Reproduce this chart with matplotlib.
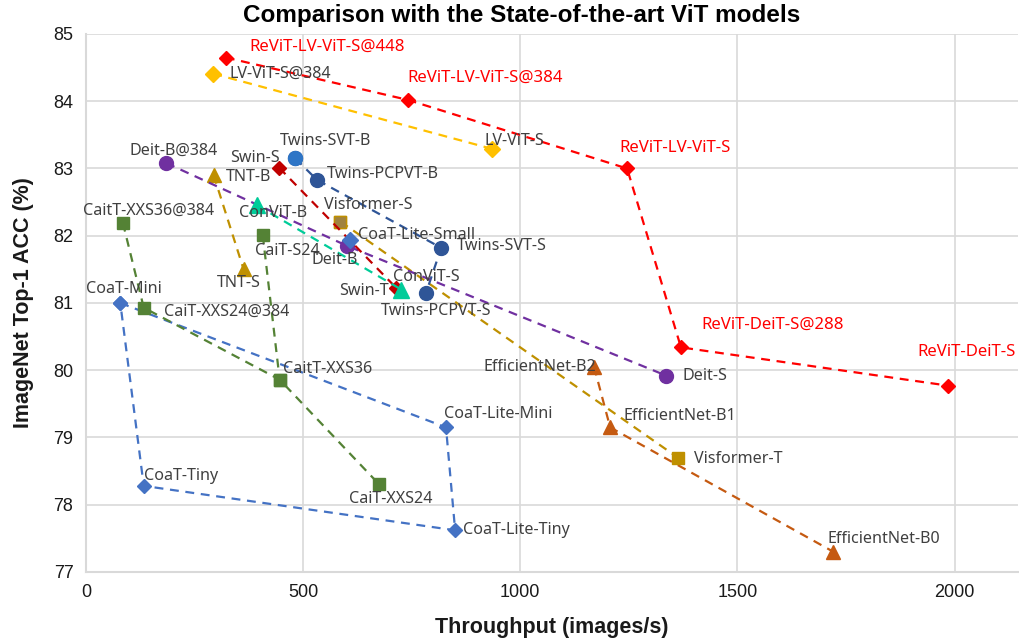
import matplotlib
matplotlib.use("Agg")
import matplotlib.pyplot as plt

plt.rcParams['font.family'] = ['Noto Sans', 'DejaVu Sans']

# ---- data ----
revit_names = ["ReViT-LV-ViT-S@448", "ReViT-LV-ViT-S@384", "ReViT-LV-ViT-S", "ReViT-DeiT-S@288", "ReViT-DeiT-S"]
revit_tp = [322, 741, 1246, 1370, 1986]
revit_acc = [84.65, 84.02, 83.0, 80.34, 79.77]

lvvit_names = ["LV-ViT-S@384", "LV-ViT-S"]
lvvit_tp = [293, 936]
lvvit_acc = [84.41, 83.29]

deit_names = ["Deit-B@384", "Deit-B", "Deit-S"]
deit_tp = [185, 601, 1336]
deit_acc = [83.08, 81.85, 79.92]

tnt_names = ["TNT-B", "TNT-S"]
tnt_tp = [294, 363]
tnt_acc = [82.9, 81.5]

swin_names = ["Swin-S", "Swin-T"]
swin_tp = [445, 715]
swin_acc = [83.01, 81.22]

twins_names = ["Twins-SVT-B", "Twins-PCPVT-B", "Twins-SVT-S", "Twins-PCPVT-S"]
twins_tp = [482, 532, 818, 783]
twins_acc = [83.15, 82.83, 81.82, 81.15]

convit_names = ["ConViT-B", "ConViT-S"]
convit_tp = [394, 726]
convit_acc = [82.45, 81.2]

cait_names = ["CaitT-XXS36@384", "CaiT-XXS24@384", "CaitT-XXS36", "CaiT-XXS24"]
cait_tp = [85, 133, 446, 674]
cait_acc = [82.19, 80.93, 79.86, 78.31]
cait_s24_names = ["CaiT-S24"]
cait_s24_tp = [407]
cait_s24_acc = [82.01]

coat_names = ["CoaT-Mini", "CoaT-Lite-Mini", "CoaT-Lite-Tiny", "CoaT-Tiny"]
coat_tp = [79, 829, 850, 133]
coat_acc = [81.0, 79.15, 77.62, 78.28]
coat_small_names = ["CoaT-Lite-Small"]
coat_small_tp = [607]
coat_small_acc = [81.93]

visf_names = ["Visformer-S", "Visformer-T"]
visf_tp = [586, 1363]
visf_acc = [82.21, 78.7]

effnet_names = ["EfficientNet-B2", "EfficientNet-B1", "EfficientNet-B0"]
effnet_tp = [1170, 1207, 1721]
effnet_acc = [80.05, 79.15, 77.3]

# label offsets in pixels (dx, dy, ha)
label_pos = {
    "ReViT-LV-ViT-S@448": (24, 11, "left"), "ReViT-LV-ViT-S@384": (0, 22, "left"),
    "ReViT-LV-ViT-S": (-8, 20, "left"), "ReViT-DeiT-S@288": (20, 23, "left"),
    "ReViT-DeiT-S": (-31, 34, "left"),
    "LV-ViT-S@384": (16, 0, "left"), "LV-ViT-S": (-8, 8, "left"),
    "Deit-B@384": (-37, 12, "left"), "Deit-B": (11, -14, "right"), "Deit-S": (16, 0, "left"),
    "TNT-B": (12, -2, "left"), "TNT-S": (-27, -14, "left"),
    "Swin-S": (1, 10, "right"), "Swin-T": (-8, -3, "right"),
    "Twins-SVT-B": (-15, 17, "left"), "Twins-PCPVT-B": (10, 6, "left"),
    "Twins-SVT-S": (16, 2, "left"), "Twins-PCPVT-S": (-45, -18, "left"),
    "ConViT-B": (-18, -8, "left"), "ConViT-S": (-8, 13, "left"),
    "CaitT-XXS36@384": (-40, 12, "left"), "CaiT-XXS24@384": (20, -4, "left"),
    "CaitT-XXS36": (3, 11, "left"), "CaiT-XXS24": (-30, -15, "left"), "CaiT-S24": (-8, -16, "left"),
    "CoaT-Mini": (-34, 14, "left"), "CoaT-Lite-Mini": (-2, 13, "left"),
    "CoaT-Lite-Tiny": (8, 0, "left"), "CoaT-Tiny": (0, 10, "left"), "CoaT-Lite-Small": (8, 5, "left"),
    "Visformer-S": (-16, 17, "left"), "Visformer-T": (16, -1, "left"),
    "EfficientNet-B2": (2, 0, "right"), "EfficientNet-B1": (13, 11, "left"),
    "EfficientNet-B0": (-6, 13, "left"),
}

fig = plt.figure(figsize=(10.2, 6.39), dpi=100)
ax = fig.add_axes([0.0843, 0.1049, 0.9137, 0.8419])

line_kw = dict(linestyle=(0, (4, 3)), linewidth=1.6)


def series(tp, acc, color, marker, ms, mfc=None, mec=None, z=3, line=True):
    ax.plot(tp, acc, color=color, marker=marker, markersize=ms,
            markerfacecolor=mfc or color, markeredgecolor=mec or color,
            linestyle=line_kw["linestyle"] if line else "none",
            linewidth=line_kw["linewidth"], zorder=z)


def labels(names, tp, acc, color="#404040", size=11.6):
    for n, x, y in zip(names, tp, acc):
        dx, dy, ha = label_pos[n]
        ax.annotate(n, (x, y), xytext=(dx, dy), textcoords="offset pixels",
                    ha=ha, va="center", fontsize=size, color=color, zorder=6)


series(coat_tp + coat_tp[:1], coat_acc + coat_acc[:1], "#4472C4", "D", 7)
series(cait_tp, cait_acc, "#548235", "s", 9)
series([cait_s24_tp[0], cait_tp[2]], [cait_s24_acc[0], cait_acc[2]], "#548235", "s", 9)
series(effnet_tp, effnet_acc, "#C55A11", "^", 10)
series(visf_tp, visf_acc, "#BF9000", "s", 9)
ax.plot(visf_tp[:1], visf_acc[:1], "s", ms=9, mfc="#A0823F", mec="#BF9000", zorder=3)
series(tnt_tp, tnt_acc, "#BF9000", "^", 10)
series(lvvit_tp, lvvit_acc, "#FFC000", "D", 8)
series(twins_tp, twins_acc, "#2F5597", "o", 10)
ax.plot(twins_tp[:1], twins_acc[:1], "o", ms=10, color="#2E75C6", zorder=3)
series(deit_tp, deit_acc, "#7030A0", "o", 10)
series(coat_small_tp, coat_small_acc, "#4472C4", "D", 8, line=False, z=4)
series(swin_tp, swin_acc, "#C00000", "D", 7)
series(convit_tp, convit_acc, "#00CC99", "^", 11, z=4)
series(revit_tp, revit_acc, "#FF0000", "D", 7, z=4)

labels(coat_names, coat_tp, coat_acc)
labels(cait_names, cait_tp, cait_acc)
labels(cait_s24_names, cait_s24_tp, cait_s24_acc)
labels(effnet_names, effnet_tp, effnet_acc)
labels(visf_names, visf_tp, visf_acc)
labels(tnt_names, tnt_tp, tnt_acc)
labels(lvvit_names, lvvit_tp, lvvit_acc)
labels(twins_names, twins_tp, twins_acc)
labels(deit_names, deit_tp, deit_acc)
labels(coat_small_names, coat_small_tp, coat_small_acc)
labels(swin_names, swin_tp, swin_acc)
labels(convit_names, convit_tp, convit_acc)
labels(revit_names, revit_tp, revit_acc, color="#FF0000", size=12.1)

ax.set_xlim(0, 2146)
ax.set_ylim(77, 85)
ax.set_xticks([0, 500, 1000, 1500, 2000])
ax.set_yticks(range(77, 86))
ax.grid(True, color="#D9D9D9", linewidth=1.2)
ax.set_axisbelow(True)
for s in ["top", "right"]:
    ax.spines[s].set_visible(False)
for s in ["left", "bottom"]:
    ax.spines[s].set_color("#D9D9D9")
    ax.spines[s].set_linewidth(1.5)
ax.tick_params(length=0, labelsize=13, colors="#1a1a1a", pad=9)
for t in ax.get_xticklabels() + ax.get_yticklabels():
    t.set_family("Liberation Sans")
ax.set_xlabel("Throughput (images/s)", fontsize=15.5, fontweight="bold", color="#1a1a1a",
              family="Liberation Sans", labelpad=11)
ax.set_ylabel("ImageNet Top-1 ACC (%)", fontsize=15.5, fontweight="bold", color="#1a1a1a",
              family="Liberation Sans", labelpad=14)
fig.text(0.511, 0.975, "Comparison with the State-of-the-art ViT models", fontsize=17.5,
         fontweight="bold", family="Liberation Sans", ha="center", va="center", color="#000000")

fig.savefig("out.png", dpi=100)
